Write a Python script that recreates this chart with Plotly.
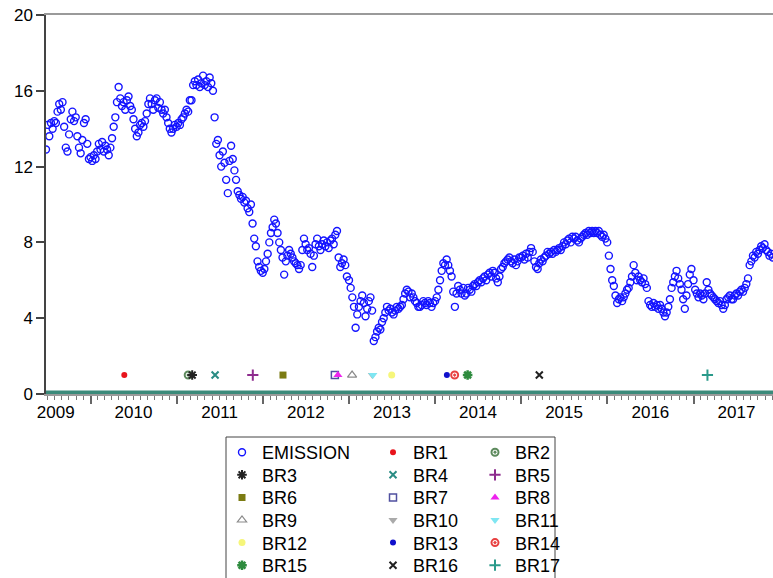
import pandas as pd
import plotly.graph_objects as go

# ---------------- data (weekly readings of the EMISSION series) ----------------
emission_2009 = [12.9, 14.2, 13.6, 14.3, 14.0, 14.4, 14.3, 14.9, 15.3, 15.0,
                 15.4, 14.1, 13.0, 12.8, 13.7, 14.5, 14.9, 14.4, 14.6, 13.6,
                 13.0, 12.7, 13.4, 14.3, 14.5, 13.2, 12.4]
emission_2010 = [12.5, 12.3, 12.6, 12.4, 12.8, 13.2, 12.9, 13.3, 12.8, 13.1,
                 12.9, 12.6, 13.0, 13.5, 14.1, 14.6, 15.4, 16.2, 15.6, 15.2,
                 15.4, 15.0, 15.5, 15.7, 15.2, 15.0, 14.5, 14.0, 13.6, 13.8,
                 14.2, 14.3, 14.1, 14.4, 14.8, 15.3, 15.6, 15.3, 15.0, 15.5,
                 15.6, 15.1, 15.4, 15.0, 14.8, 15.0, 14.6, 14.3, 14.0, 13.8,
                 14.0, 14.2]
emission_2011 = [14.1, 14.3, 14.2, 14.5, 14.6, 14.8, 15.0, 14.9, 15.5, 15.5,
                 16.3, 16.5, 16.3, 16.6, 16.2, 16.4, 16.8, 16.3, 16.5, 16.2,
                 16.7, 16.4, 16.0, 14.6, 13.2, 13.4, 12.6, 12.0, 12.8, 12.2,
                 11.3, 10.6, 12.3, 13.1, 12.4, 11.8, 11.3, 10.7, 10.5, 10.3,
                 10.4, 10.1, 10.2, 9.8, 9.6, 10.0, 9.0, 8.2, 7.8, 7.0,
                 6.7, 6.5]
emission_2012 = [6.4, 6.6, 7.0, 7.4, 8.0, 8.5, 8.8, 9.2, 9.0, 8.5,
                 8.0, 7.6, 7.2, 6.3, 7.0, 7.3, 7.6, 7.4, 7.2, 7.0,
                 6.9, 6.8, 6.6, 6.8, 7.6, 8.2, 7.9, 7.6, 7.7, 7.4,
                 6.7, 7.3, 7.9, 8.2, 7.8, 7.6, 7.9, 8.1, 7.8, 8.0,
                 7.7, 8.1, 8.2, 7.9, 8.4, 8.6, 7.2, 6.7, 6.9, 7.1,
                 6.8, 6.2]
emission_2013 = [6.0, 5.6, 5.1, 4.6, 3.5, 4.2, 4.6, 4.9, 5.2, 4.8,
                 4.1, 4.5, 4.9, 5.1, 4.4, 2.8, 3.0, 3.3, 3.5, 3.4,
                 3.8, 4.0, 4.3, 4.6, 4.4, 4.5, 4.3, 4.2, 4.4, 4.6,
                 4.5, 4.6, 4.7, 5.0, 5.3, 5.5, 5.4, 5.1, 5.3, 5.1,
                 4.9, 4.8, 4.6, 4.6, 4.7, 4.9, 4.8, 4.7, 4.9, 4.8,
                 4.6, 4.8]
emission_2014 = [4.9, 5.1, 5.5, 6.0, 6.5, 6.9, 6.8, 7.1, 6.8, 6.5,
                 6.2, 5.4, 4.6, 5.3, 5.7, 5.5, 5.3, 5.6, 5.2, 5.3,
                 5.6, 5.5, 5.4, 5.7, 5.8, 5.7, 5.9, 6.0, 5.9, 6.1,
                 6.2, 6.0, 6.3, 6.4, 6.2, 6.5, 6.4, 6.1, 5.9, 6.2,
                 6.6, 6.7, 6.9, 7.0, 7.1, 7.2, 7.0, 6.9, 7.1, 6.8,
                 7.0, 7.2]
emission_2015 = [7.2, 7.3, 7.1, 7.4, 7.2, 7.5, 7.7, 7.5, 7.0, 6.7,
                 6.6, 6.9, 7.1, 7.0, 7.2, 7.3, 7.5, 7.4, 7.5, 7.4,
                 7.6, 7.5, 7.6, 7.7, 7.6, 7.8, 8.0, 7.9, 8.1, 8.2,
                 8.0, 8.3, 8.2, 8.3, 8.1, 8.0, 8.2, 8.3, 8.4, 8.5,
                 8.4, 8.6, 8.5, 8.6, 8.5, 8.6, 8.5, 8.6, 8.4, 8.3,
                 8.4, 8.2]
emission_2016 = [8.0, 7.3, 6.6, 6.0, 5.7, 5.2, 4.8, 5.0, 5.1, 4.9,
                 5.1, 5.3, 5.5, 5.6, 5.9, 6.2, 6.8, 6.4, 6.0, 6.2,
                 6.0, 5.9, 6.1, 5.8, 5.6, 4.9, 4.7, 4.6, 4.8, 4.6,
                 4.7, 4.5, 4.7, 4.5, 4.3, 4.1, 4.3, 4.6, 5.0, 5.6,
                 5.9, 6.2, 6.5, 6.1, 5.8, 5.5, 5.0, 4.5, 5.2, 5.8,
                 6.3, 6.6]
emission_2017 = [6.0, 5.5, 5.3, 5.1, 5.3, 5.2, 5.0, 5.3, 5.9, 5.5,
                 5.3, 5.2, 5.1, 5.0, 4.9, 4.8, 4.9, 4.7, 4.5, 4.7,
                 5.0, 5.1, 5.2, 5.0, 5.0, 5.2, 5.3, 5.2, 5.4, 5.5,
                 5.4, 5.6, 5.8, 6.1, 6.8, 7.0, 7.3, 7.2, 7.5, 7.4,
                 7.6, 7.8, 7.7, 7.9, 7.6, 7.5, 7.3, 7.4, 7.2]

segment_starts = ["2009-06-26", "2010-01-01", "2011-01-01", "2012-01-01", "2013-01-01",
                  "2014-01-01", "2015-01-01", "2016-01-01", "2017-01-01"]
segment_values = [emission_2009, emission_2010, emission_2011, emission_2012, emission_2013,
                  emission_2014, emission_2015, emission_2016, emission_2017]

# break dummies: date of the event (value 1)
br_names = ["BR1", "BR2", "BR3", "BR4", "BR5", "BR6", "BR7", "BR8", "BR9",
            "BR10", "BR11", "BR12", "BR13", "BR14", "BR15", "BR16", "BR17"]
br_dates = ["2010-05-24", "2011-02-19", "2011-03-08", "2011-06-13", "2011-11-20",
            "2012-03-27", "2012-11-02", "2012-11-15", "2013-01-14", "2013-04-10",
            "2013-04-12", "2013-07-01", "2014-02-20", "2014-03-25", "2014-05-19",
            "2015-03-19", "2017-03-01"]
br_values = [1, 1, 1, 1, 1, 1, 1, 1, 1, 1, 1, 1, 1, 1, 1, 1, 1]

# zero level of the dummies
dummy_zero_dates = ["2009-06-26", "2017-12-04"]
dummy_zero_values = [0, 0]

year_labels = ["2009", "2010", "2011", "2012", "2013", "2014", "2015", "2016", "2017"]
year_label_dates = ["2009-08-06", "2010-07-02", "2011-07-02", "2012-07-02", "2013-07-02",
                    "2014-07-02", "2015-07-02", "2016-07-02", "2017-07-02"]
y_ticks = [0, 4, 8, 12, 16, 20]
x_range = ["2009-06-26", "2017-12-04"]

# ---------------- styles ----------------
br_styles = {
    "BR1": dict(symbol="circle", color="#e8141c", size=6, lw=0),
    "BR2": dict(symbol="circle-open-dot", color="#5d8a5d", size=7, lw=2),
    "BR3": dict(symbol="asterisk-open", color="#222222", size=8, lw=2),
    "BR4": dict(symbol="x-thin-open", color="#2a8c84", size=7, lw=2),
    "BR5": dict(symbol="cross-thin-open", color="#8e2c8e", size=8, lw=2),
    "BR6": dict(symbol="square", color="#7b7b12", size=7, lw=0),
    "BR7": dict(symbol="square-open", color="#5050a0", size=7, lw=1.5),
    "BR8": dict(symbol="triangle-up", color="#ee22ee", size=8, lw=0),
    "BR9": dict(symbol="triangle-up-open", color="#8a8a8a", size=8, lw=1.2),
    "BR10": dict(symbol="triangle-down", color="#aaaaaa", size=8, lw=0),
    "BR11": dict(symbol="triangle-down", color="#7fe6f2", size=8, lw=0),
    "BR12": dict(symbol="circle", color="#f6f67a", size=7, lw=0),
    "BR13": dict(symbol="circle", color="#1010cc", size=6, lw=0),
    "BR14": dict(symbol="circle-open-dot", color="#e84040", size=7, lw=2),
    "BR15": dict(symbol="asterisk-open", color="#2e8b3e", size=8, lw=2.5),
    "BR16": dict(symbol="x-thin-open", color="#222222", size=7, lw=2),
    "BR17": dict(symbol="cross-thin-open", color="#2a9a8a", size=8, lw=2),
}

# page geometry (pixels)
W, H = 773, 578
M_L, M_R, M_T, M_B = 46, 0, 15, 184
plot_w = W - M_L - M_R
plot_h = H - M_T - M_B
legend_col_left_px = [222, 373, 475]
legend_row_center_px = [454, 476.6, 499.2, 521.8, 544.4, 567]
legend_center_offset = 20
legend_box_px = (226, 555, 437, 640)


def px_to_paper_x(px):
    return (px - M_L) / plot_w


def px_to_paper_y(py):
    return (H - M_B - py) / plot_h


def legend_id(k):
    return "legend" if k == 0 else f"legend{k + 1}"


# ---------------- build ----------------
dates = []
values = []
for start, vals in zip(segment_starts, segment_values):
    dates.extend(pd.date_range(start=start, periods=len(vals), freq="7D"))
    values.extend(vals)

fig = go.Figure()

fig.add_trace(go.Scatter(
    x=dates, y=values, mode="markers", name="EMISSION",
    marker=dict(symbol="circle-open", size=7, color="#1414ff", line=dict(width=1.4, color="#1414ff")),
    legend=legend_id(0), hoverinfo="x+y",
))

for i, (name, d, v) in enumerate(zip(br_names, br_dates, br_values)):
    st = br_styles[name]
    fig.add_trace(go.Scatter(
        x=[d], y=[v], mode="markers", name=name,
        marker=dict(symbol=st["symbol"], size=st["size"], color=st["color"],
                    line=dict(width=st["lw"], color=st["color"])),
        legend=legend_id(i + 1),
    ))

fig.add_trace(go.Scatter(
    x=dummy_zero_dates, y=dummy_zero_values, mode="lines",
    line=dict(color="#3b8a7a", width=7), showlegend=False, hoverinfo="skip",
    xaxis="x2", yaxis="y",
))

font_family = "Arial, 'Liberation Sans', Helvetica, sans-serif"
legend_layout = {}
for k in range(1 + len(br_names)):
    row, col = divmod(k, 3)
    legend_layout[legend_id(k)] = dict(
        x=px_to_paper_x(legend_col_left_px[col]),
        y=px_to_paper_y(legend_row_center_px[row] - legend_center_offset),
        xanchor="left", yanchor="top", bgcolor="rgba(0,0,0,0)",
        font=dict(size=18, color="black", family=font_family),
        borderwidth=0, orientation="v",
    )

fig.update_layout(
    width=W, height=H,
    margin=dict(l=M_L, r=M_R, t=M_T, b=M_B, autoexpand=False),
    paper_bgcolor="white", plot_bgcolor="white",
    font=dict(family=font_family, size=17, color="black"),
    showlegend=True,
    **legend_layout,
    xaxis=dict(
        type="date", range=x_range, showgrid=False, zeroline=False,
        showline=True, linecolor="#9a9a9a", linewidth=1.5, mirror=True,
        ticks="outside", tickmode="linear", tick0="2010-01-01", dtick="M12",
        ticklen=8, tickwidth=1.5, tickcolor="#666666", showticklabels=False,
        minor=dict(ticks="outside", dtick="M1", tick0="2010-01-01", ticklen=4,
                   tickwidth=1, tickcolor="#777777", showgrid=False),
    ),
    xaxis2=dict(
        type="date", range=x_range, overlaying="x", anchor="y", side="bottom",
        showgrid=False, zeroline=False, showline=False, ticks="",
        tickmode="array", tickvals=year_label_dates, ticktext=year_labels,
        tickfont=dict(size=17, color="black"), ticklabelstandoff=6,
    ),
    yaxis=dict(
        range=[0, 20], tickmode="array", tickvals=y_ticks, ticks="outside",
        ticklen=8, tickwidth=1.5, tickcolor="#444444", showline=True,
        linecolor="#444444", linewidth=1.5, showgrid=False, zeroline=False,
        tickfont=dict(size=17, color="black"),
    ),
    shapes=[dict(type="rect", xref="paper", yref="paper",
                 x0=px_to_paper_x(legend_box_px[0]), x1=px_to_paper_x(legend_box_px[1]),
                 y0=px_to_paper_y(legend_box_px[2]), y1=px_to_paper_y(legend_box_px[3]),
                 line=dict(color="#444444", width=1), fillcolor="rgba(0,0,0,0)", layer="above")],
)

# the page's default body margin would shift the 773x578 figure; remove it
fig.write_html("out.html", config={"displayModeBar": False},
               post_script="document.body.style.margin='0';document.body.style.overflow='hidden';")
